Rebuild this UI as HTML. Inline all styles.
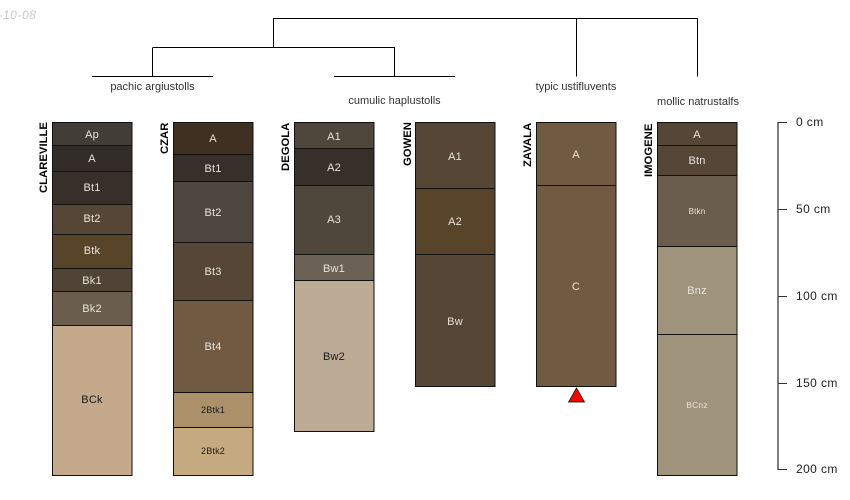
<!DOCTYPE html>
<html><head><meta charset="utf-8"><style>
html,body{margin:0;padding:0;background:#fff}
svg{display:block}
text{font-family:"Liberation Sans",sans-serif}
.h{font-size:11px;text-anchor:middle;letter-spacing:.2px}
.l{fill:#e8e4dc}.d{fill:#1a1a1a}
.n{font-size:11.300px;font-weight:bold;fill:#000;text-anchor:start}
.t{font-size:11px;fill:#333;text-anchor:middle}
.c{font-size:12px;fill:#222;letter-spacing:.4px}
rect{stroke:#111;stroke-width:1}
</style></head><body>
<svg width="850" height="500" viewBox="0 0 850 500">
<text x="-30.800" y="19" font-size="12" font-style="italic" fill="#c8c8c8" letter-spacing=".6">2017-10-08</text>
<g fill="none" stroke="#000" stroke-width="1">
<path d="M273.500 47V18.500H697.500V76.500M576.500 18.500V76.500M153 47.500H394.500V76M152.500 47.500V76M92 76.500H213M334 76.500H455"/>
</g>
<text class="t" x="152.500" y="90">pachic argiustolls</text>
<text class="t" x="394.500" y="104">cumulic haplustolls</text>
<text class="t" x="576" y="90">typic ustifluvents</text>
<text class="t" x="698" y="105">mollic natrustalfs</text>

<g>
<rect x="52.500" y="122.500" width="79.500" height="23" fill="#433d37"/>
<rect x="52.500" y="145.500" width="79.500" height="26" fill="#332d29"/>
<rect x="52.500" y="171.500" width="79.500" height="33" fill="#362f2a"/>
<rect x="52.500" y="204.500" width="79.500" height="30" fill="#554636"/>
<rect x="52.500" y="234.500" width="79.500" height="34" fill="#584529"/>
<rect x="52.500" y="268.500" width="79.500" height="23" fill="#4f4435"/>
<rect x="52.500" y="291.500" width="79.500" height="34" fill="#6b5d4c"/>
<rect x="52.500" y="325.500" width="79.500" height="150" fill="#c4aa8b" stroke="#5a5040"/>

<rect x="173.500" y="122.500" width="79.500" height="32" fill="#3f3021"/>
<rect x="173.500" y="154.500" width="79.500" height="27" fill="#362f2a"/>
<rect x="173.500" y="181.500" width="79.500" height="61" fill="#4c463e"/>
<rect x="173.500" y="242.500" width="79.500" height="58" fill="#554636"/>
<rect x="173.500" y="300.500" width="79.500" height="92" fill="#705a41"/>
<rect x="173.500" y="392.500" width="79.500" height="35" fill="#ab916a"/>
<rect x="173.500" y="427.500" width="79.500" height="48" fill="#c7ab80" stroke="#5a5040"/>

<rect x="294.500" y="122.500" width="79.500" height="26" fill="#4f463c"/>
<rect x="294.500" y="148.500" width="79.500" height="37" fill="#362f2a"/>
<rect x="294.500" y="185.500" width="79.500" height="69" fill="#4f463c"/>
<rect x="294.500" y="254.500" width="79.500" height="26" fill="#6b6154"/>
<rect x="294.500" y="280.500" width="79.500" height="151" fill="#bcab95" stroke="#5a5040"/>

<rect x="415.500" y="122.500" width="79.500" height="66" fill="#554636"/>
<rect x="415.500" y="188.500" width="79.500" height="66" fill="#584529"/>
<rect x="415.500" y="254.500" width="79.500" height="132" fill="#554636"/>

<rect x="536.500" y="122.500" width="79.500" height="63" fill="#705a41"/>
<rect x="536.500" y="185.500" width="79.500" height="201" fill="#705a41"/>

<rect x="657.500" y="122.500" width="79.500" height="23" fill="#554636"/>
<rect x="657.500" y="145.500" width="79.500" height="30" fill="#554636"/>
<rect x="657.500" y="175.500" width="79.500" height="71" fill="#6b5d4c"/>
<rect x="657.500" y="246.500" width="79.500" height="88" fill="#9f937b"/>
<rect x="657.500" y="334.500" width="79.500" height="141" fill="#9f937b" stroke="#333"/>
</g>
<path d="M568.500 402L576.500 388L584.500 402Z" fill="#f00" stroke="#000" stroke-width=".7"/>

<text class="h l" x="92" y="138">Ap</text>
<text class="h l" x="92" y="162">A</text>
<text class="h l" x="92" y="191">Bt1</text>
<text class="h l" x="92" y="222">Bt2</text>
<text class="h l" x="92" y="254">Btk</text>
<text class="h l" x="92" y="284">Bk1</text>
<text class="h l" x="92" y="312">Bk2</text>
<text class="h d" x="92" y="403">BCk</text>

<text class="h l" x="213" y="142">A</text>
<text class="h l" x="213" y="172">Bt1</text>
<text class="h l" x="213" y="216">Bt2</text>
<text class="h l" x="213" y="275">Bt3</text>
<text class="h l" x="213" y="350">Bt4</text>
<text class="h d" x="213" y="413" style="font-size:9px">2Btk1</text>
<text class="h d" x="213" y="454" style="font-size:9px">2Btk2</text>

<text class="h l" x="334" y="140">A1</text>
<text class="h l" x="334" y="171">A2</text>
<text class="h l" x="334" y="223">A3</text>
<text class="h l" x="334" y="272">Bw1</text>
<text class="h d" x="334" y="360">Bw2</text>

<text class="h l" x="455" y="160">A1</text>
<text class="h l" x="455" y="225">A2</text>
<text class="h l" x="455" y="325">Bw</text>

<text class="h l" x="576" y="158">A</text>
<text class="h l" x="576" y="290">C</text>

<text class="h l" x="697" y="138">A</text>
<text class="h l" x="697" y="164">Btn</text>
<text class="h l" x="697" y="214" style="font-size:8px">Btkn</text>
<text class="h l" x="697" y="294">Bnz</text>
<text class="h l" x="697" y="408" style="font-size:8.500px">BCnz</text>

<text class="n" transform="translate(47 193) rotate(-90)">CLAREVILLE</text>
<text class="n" transform="translate(168 154) rotate(-90)">CZAR</text>
<text class="n" transform="translate(289 171) rotate(-90)">DEGOLA</text>
<text class="n" transform="translate(411 166) rotate(-90)">GOWEN</text>
<text class="n" transform="translate(531 167) rotate(-90)">ZAVALA</text>
<text class="n" transform="translate(652 177) rotate(-90)">IMOGENE</text>

<path d="M778 122V470" stroke="#808080" stroke-width="2" fill="none"/>
<path d="M778 122.500H787M778 209.500H787M778 296.500H787M778 383.500H787M778 469.500H787" stroke="#333" stroke-width="1" fill="none"/>
<text class="c" x="796" y="126">0 cm</text>
<text class="c" x="796" y="213">50 cm</text>
<text class="c" x="796" y="300">100 cm</text>
<text class="c" x="796" y="387">150 cm</text>
<text class="c" x="796" y="473">200 cm</text>
</svg>
</body></html>
